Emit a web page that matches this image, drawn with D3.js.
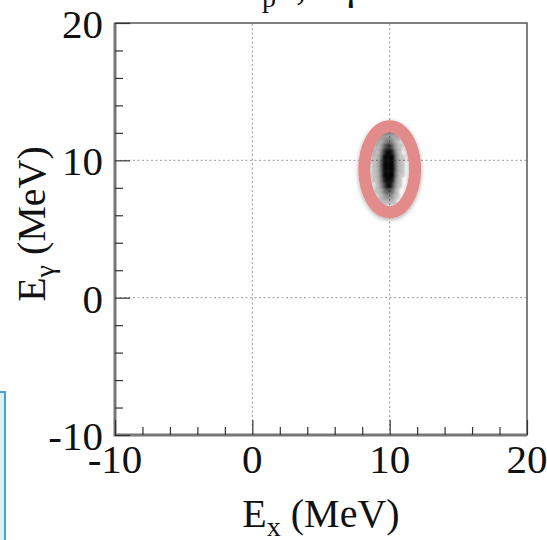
<!DOCTYPE html>
<html>
<head>
<meta charset="utf-8">
<script src="https://cdn.jsdelivr.net/npm/d3@7"></script>
<style>
  body { margin: 0; background: #fff; overflow: hidden; }
  svg { display: block; }
</style>
</head>
<body>
<script>
var width = 547, height = 540;

// axis setup (MeV)
var xDomain = [-10, 20], yDomain = [-10, 20];
var majorTicks = [-10, 0, 10, 20];
var minorTicks = [-8, -6, -4, -2, 2, 4, 6, 8, 12, 14, 16, 18];
var gridValues = [0, 10];

// 2D histogram of the events: bin edges and counts (rows from top, y high -> low)
var xEdges = [8.7, 8.9, 9.1, 9.3, 9.5, 9.7, 9.9, 10.1, 10.3, 10.5, 10.7, 10.9, 11.1];
var yEdges = [12.4, 12.0, 11.6, 11.2, 10.8, 10.4, 10.0, 9.6, 9.2, 8.8, 8.4, 8.0, 7.6, 7.2, 6.8];
var counts = [
  [0, 0, 0, 1, 1, 2, 2, 1, 1, 0, 0, 0],
  [0, 0, 1, 1, 3, 4, 4, 3, 1, 1, 0, 0],
  [0, 1, 1, 3, 6, 9, 9, 6, 3, 1, 0, 0],
  [0, 1, 2, 5, 11, 16, 16, 11, 5, 2, 1, 0],
  [1, 1, 3, 8, 17, 25, 26, 17, 8, 3, 1, 0],
  [1, 2, 4, 10, 22, 33, 34, 22, 10, 4, 1, 1],
  [1, 2, 5, 12, 25, 37, 38, 25, 11, 4, 2, 1],
  [1, 2, 5, 12, 26, 38, 39, 26, 12, 4, 2, 1],
  [1, 2, 4, 11, 24, 35, 36, 24, 10, 4, 1, 1],
  [1, 1, 4, 9, 19, 29, 30, 19, 8, 3, 1, 0],
  [0, 1, 3, 7, 14, 21, 22, 14, 6, 2, 1, 0],
  [0, 1, 2, 4, 9, 13, 13, 9, 4, 1, 0, 0],
  [0, 0, 1, 2, 5, 7, 7, 5, 2, 1, 0, 0],
  [0, 0, 1, 1, 2, 3, 3, 2, 1, 0, 0, 0]
];

// highlighted region (ellipse around the peak)
var ring = {cx: 10, cy: 9.35, rx: 1.85, ry: 3.13};

var margin = {left: 115, right: 20, top: 23, bottom: 105};

var svg = d3.select("body").append("svg")
    .attr("width", width)
    .attr("height", height)
    .style("font-family", "'Liberation Serif', 'DejaVu Serif', serif");

var defs = svg.append("defs");
defs.append("filter").attr("id", "shadow")
    .attr("x", "-30%").attr("y", "-30%").attr("width", "160%").attr("height", "160%")
  .append("feDropShadow")
    .attr("dx", 0).attr("dy", 1.5)
    .attr("stdDeviation", 2)
    .attr("flood-color", "#000")
    .attr("flood-opacity", 0.35);
defs.append("filter").attr("id", "soft")
  .append("feGaussianBlur").attr("stdDeviation", 0.8);

var x = d3.scaleLinear().domain(xDomain).range([margin.left, width - margin.right]);
var y = d3.scaleLinear().domain(yDomain).range([height - margin.bottom, margin.top]);

// light blue box peeking in at the left edge
svg.append("rect")
    .attr("x", -4).attr("y", 392)
    .attr("width", 9).attr("height", 160)
    .attr("fill", "#dcf0f7")
    .attr("stroke", "#4aa3c2")
    .attr("stroke-width", 2);

// grid
var grid = svg.append("g")
    .attr("stroke", "#9a9a9a")
    .attr("stroke-width", 1)
    .attr("stroke-dasharray", "2,2.5");
grid.selectAll(".gx").data(gridValues).join("line")
    .attr("x1", d => x(d)).attr("x2", d => x(d))
    .attr("y1", y(yDomain[0])).attr("y2", y(yDomain[1]));
grid.selectAll(".gy").data(gridValues).join("line")
    .attr("y1", d => y(d)).attr("y2", d => y(d))
    .attr("x1", x(xDomain[0])).attr("x2", x(xDomain[1]));

// histogram cells
var cells = [];
counts.forEach((row, j) => {
  row.forEach((c, i) => {
    if (c > 0) cells.push({x0: xEdges[i], x1: xEdges[i + 1], y0: yEdges[j + 1], y1: yEdges[j], c: c});
  });
});
var op = d3.scaleLinear().domain([1, 22]).range([0.2, 1]).clamp(true);
svg.append("g")
    .attr("filter", "url(#soft)")
  .selectAll("rect")
  .data(cells)
  .join("rect")
    .attr("x", d => x(d.x0))
    .attr("y", d => y(d.y1))
    .attr("width", d => x(d.x1) - x(d.x0) + 0.3)
    .attr("height", d => y(d.y0) - y(d.y1) + 0.3)
    .attr("fill", "#000")
    .attr("fill-opacity", d => op(d.c));

// ellipse highlight
svg.append("ellipse")
    .attr("cx", x(ring.cx))
    .attr("cy", y(ring.cy))
    .attr("rx", x(ring.cx + ring.rx) - x(ring.cx))
    .attr("ry", y(ring.cy) - y(ring.cy + ring.ry))
    .attr("fill", "none")
    .attr("stroke", "#e38b8b")
    .attr("stroke-width", 12)
    .attr("filter", "url(#shadow)");

// frame
svg.append("rect")
    .attr("x", x(xDomain[0])).attr("y", y(yDomain[1]))
    .attr("width", x(xDomain[1]) - x(xDomain[0]))
    .attr("height", y(yDomain[0]) - y(yDomain[1]))
    .attr("fill", "none")
    .attr("stroke", "#555")
    .attr("stroke-width", 1.5);
svg.append("path")
    .attr("d", `M${x(xDomain[0])},${y(yDomain[1])}V${y(yDomain[0])}H${x(xDomain[1])}`)
    .attr("fill", "none")
    .attr("stroke", "#777")
    .attr("stroke-width", 3);

// axes (ticks inside the frame)
var xAxisMajor = d3.axisTop(x).tickValues(majorTicks).tickSize(15).tickFormat("");
var xAxisMinor = d3.axisTop(x).tickValues(minorTicks).tickSize(8).tickFormat("");
var yAxisMajor = d3.axisRight(y).tickValues(majorTicks).tickSize(15).tickFormat("");
var yAxisMinor = d3.axisRight(y).tickValues(minorTicks).tickSize(8).tickFormat("");

[xAxisMajor, xAxisMinor].forEach(a => {
  svg.append("g").attr("transform", `translate(0,${y(yDomain[0])})`).call(a)
    .call(g => g.select(".domain").remove())
    .selectAll("line").attr("stroke", "#333").attr("stroke-width", 1.2);
});
[yAxisMajor, yAxisMinor].forEach(a => {
  svg.append("g").attr("transform", `translate(${x(xDomain[0])},0)`).call(a)
    .call(g => g.select(".domain").remove())
    .selectAll("line").attr("stroke", "#333").attr("stroke-width", 1.2);
});

// tick labels
svg.append("g").selectAll("text").data(majorTicks).join("text")
    .attr("x", d => x(d))
    .attr("y", 473)
    .attr("text-anchor", "middle")
    .attr("font-size", 41)
    .attr("fill", "#111")
    .text(d => d);
svg.append("g").selectAll("text").data(majorTicks).join("text")
    .attr("x", 103)
    .attr("y", d => y(d) + 15)
    .attr("text-anchor", "end")
    .attr("font-size", 41)
    .attr("fill", "#111")
    .text(d => d);

// axis titles
var xt = svg.append("text")
    .attr("x", x(5)).attr("y", 527)
    .attr("text-anchor", "middle")
    .attr("font-size", 40)
    .attr("fill", "#111");
xt.append("tspan").text("E");
xt.append("tspan").attr("font-size", 28).attr("dy", 9).text("x");
xt.append("tspan").attr("dy", -9).text(" (MeV)");

var yt = svg.append("text")
    .attr("transform", `translate(45,${y(5) - 5}) rotate(-90)`)
    .attr("text-anchor", "middle")
    .attr("font-size", 40)
    .attr("fill", "#111");
yt.append("tspan").text("E");
yt.append("tspan").attr("font-size", 28).attr("dy", 9).text("γ");
yt.append("tspan").attr("dy", -9).text(" (MeV)");

// plot title, mostly cut off above the top edge
var tt = svg.append("text")
    .attr("y", -1)
    .attr("font-size", 40)
    .attr("fill", "#111");
tt.append("tspan").attr("x", 232).text("T");
tt.append("tspan").attr("x", 262).attr("font-size", 28).attr("dy", 8).text("p");
tt.append("tspan").attr("x", 296).attr("dy", -8).text(",");
tt.append("tspan").attr("x", 342).text("γ");
</script>
</body>
</html>
